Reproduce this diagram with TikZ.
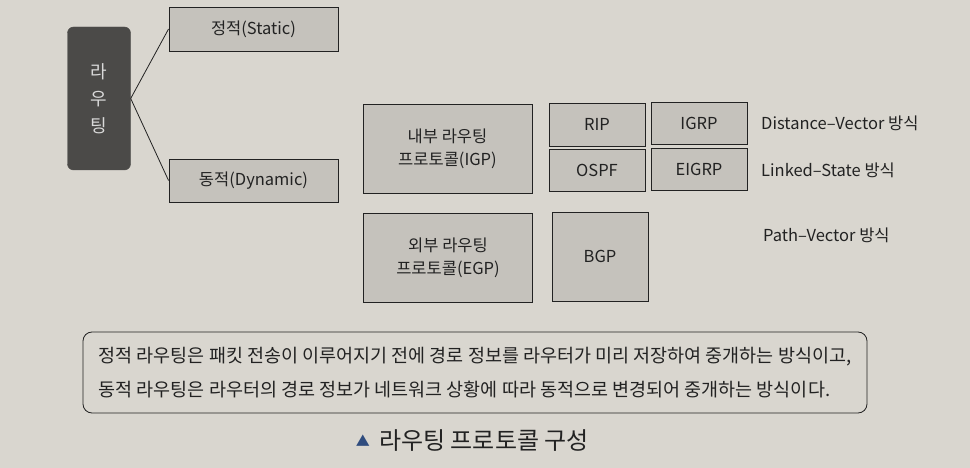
\documentclass[tikz,border=0pt]{standalone}
\usepackage{fontspec}
\setmainfont{Noto Sans CJK KR}
\usepackage{xcolor}
\usepackage{tikz}
\usetikzlibrary{positioning}

\definecolor{paper}{HTML}{D9D6CF}
\definecolor{boxgray}{HTML}{C5C2BC}
\definecolor{darkbox}{HTML}{4B4A48}
\definecolor{ink}{HTML}{222222}
\definecolor{tri}{HTML}{2F4C7E}

\tikzset{
  graybox/.style={draw=ink, fill=boxgray, line width=0.9pt, inner sep=0pt,
    text=ink, align=center, font=\fontsize{16.5}{23}\selectfont},
  sidelabel/.style={anchor=west, inner sep=0pt, text=ink,
    font=\fontsize{16.5}{18}\selectfont},
}

\begin{document}
\begin{tikzpicture}[x=1pt, y=-1pt]
    \fill[paper] (0,0) rectangle (970,468);
    \useasboundingbox (0,0) rectangle (970,468);
    % left part
    \node[draw=darkbox, fill=darkbox, rounded corners=6pt, inner sep=0pt,
      minimum width=63pt, minimum height=143pt, align=center,
      text=white!85!black, font=\fontsize{18}{27}\selectfont] (routing) at (99,98.5) {라\\우\\팅};
    \node[graybox, minimum width=169pt, minimum height=44pt] (static) at (253.5,29) {정적(Static)};
    \node[graybox, minimum width=169pt, minimum height=43pt] (dynamic) at (253.5,180.5) {동적(Dynamic)};
    \draw[ink, line width=0.8pt] (static.west) -- (routing.east) -- (dynamic.west);
    % protocols
    \node[graybox, minimum width=169pt, minimum height=89pt] (igp) at (447.5,148.5) {내부 라우팅\\프로토콜(IGP)};
    \node[graybox, minimum width=169pt, minimum height=89pt] (egp) at (448,257.5) {외부 라우팅\\프로토콜(EGP)};
    \node[graybox, minimum width=96pt, minimum height=43pt] (rip) at (597,124.5) {RIP};
    \node[graybox, minimum width=96pt, minimum height=42pt] (igrp) at (699,123) {IGRP};
    \node[graybox, minimum width=96pt, minimum height=42pt] (ospf) at (597,170) {OSPF};
    \node[graybox, minimum width=96pt, minimum height=42pt] (eigrp) at (699,169) {EIGRP};
    \node[graybox, minimum width=96pt, minimum height=89pt] (bgp) at (600,256.5) {BGP};
    \node[sidelabel] (dv) at (761,123) {Distance–Vector 방식};
    \node[sidelabel] (ls) at (761,170) {Linked–State 방식};
    \node[sidelabel] (pv) at (763,235) {Path–Vector 방식};
    % note and caption
    \node[draw=ink, line width=0.8pt, rounded corners=9pt, inner sep=0pt,
      minimum width=784pt, minimum height=81pt, align=left, text=ink,
      font=\fontsize{18.5}{34}\selectfont] (note) at (475,372.5)
      {정적 라우팅은 패킷 전송이 이루어지기 전에 경로 정보를 라우터가 미리 저장하여 중개하는 방식이고,\\
       동적 라우팅은 라우터의 경로 정보가 네트워크 상황에 따라 동적으로 변경되어 중개하는 방식이다.};
    \node[text=ink, inner sep=0pt, font=\fontsize{24}{28}\selectfont] (caption) at (484,441) {라우팅 프로토콜 구성};
    \node[text=tri, inner sep=0pt, font=\fontsize{14}{16}\selectfont, left=9pt of caption] (mark) {▲};
  \end{tikzpicture}
\end{document}
